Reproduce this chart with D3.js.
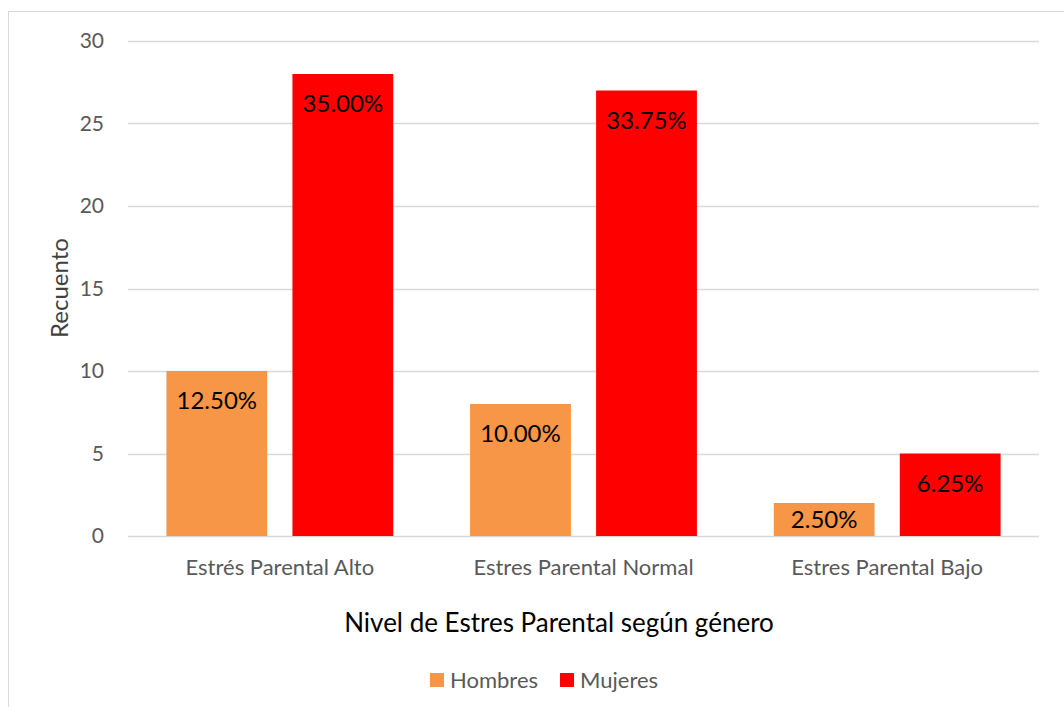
<!DOCTYPE html>
<html>
<head>
<meta charset="utf-8">
<script src="https://cdn.jsdelivr.net/npm/d3@7"></script>
<style>
  body { margin: 0; background: #fff; }
  text { font-family: Lato, "Open Sans", sans-serif; }
</style>
</head>
<body>
<div id="chart"></div>
<script>
// data
const categories = ["Estrés Parental Alto", "Estres Parental Normal", "Estres Parental Bajo"];
const seriesNames = ["Hombres", "Mujeres"];
const hombres = [10, 8, 2];
const mujeres = [28, 27, 5];
const hombresPct = ["12.50%", "10.00%", "2.50%"];
const mujeresPct = ["35.00%", "33.75%", "6.25%"];
const yTicks = [0, 5, 10, 15, 20, 25, 30];
const colors = ["#F79646", "#FF0000"];

const width = 1064, height = 707;
const margin = {top: 41, right: 25, bottom: 171, left: 128};

const svg = d3.select("#chart").append("svg")
    .attr("width", width)
    .attr("height", height);

// chart frame
svg.append("rect")
    .attr("x", 8.5).attr("y", 11.5)
    .attr("width", width + 20).attr("height", height + 20)
    .attr("fill", "none")
    .attr("stroke", "#D9D9D9");

const x0 = d3.scaleBand()
    .domain(categories)
    .range([margin.left, width - margin.right])
    .paddingInner(0.253)
    .paddingOuter(0.1265);

const x1 = d3.scaleBand()
    .domain(seriesNames)
    .range([0, x0.bandwidth()])
    .paddingInner(0.2);

const y = d3.scaleLinear()
    .domain([0, 30])
    .range([height - margin.bottom, margin.top]);

// gridlines
svg.append("g")
    .selectAll("line")
    .data(yTicks)
    .join("line")
    .attr("x1", margin.left)
    .attr("x2", width - margin.right)
    .attr("y1", d => Math.round(y(d)) + 0.5)
    .attr("y2", d => Math.round(y(d)) + 0.5)
    .attr("stroke", "#D9D9D9")
    .attr("stroke-width", 1.3);

// y tick labels
svg.append("g")
    .selectAll("text")
    .data(yTicks)
    .join("text")
    .attr("x", 104)
    .attr("y", d => y(d))
    .attr("dy", "0.35em")
    .attr("text-anchor", "end")
    .attr("font-size", "21px")
    .attr("fill", "#595959")
    .text(d => d);

const rows = categories.map((c, i) => ({
    cat: c,
    vals: [
        {name: "Hombres", value: hombres[i], pct: hombresPct[i], color: colors[0]},
        {name: "Mujeres", value: mujeres[i], pct: mujeresPct[i], color: colors[1]}
    ]
}));

const groups = svg.append("g")
    .selectAll("g")
    .data(rows)
    .join("g")
    .attr("transform", d => `translate(${x0(d.cat)},0)`);

groups.selectAll("rect")
    .data(d => d.vals)
    .join("rect")
    .attr("x", d => x1(d.name))
    .attr("y", d => y(d.value))
    .attr("width", x1.bandwidth())
    .attr("height", d => y(0) - y(d.value))
    .attr("fill", d => d.color);

// data labels (inside end)
groups.selectAll("text")
    .data(d => d.vals)
    .join("text")
    .attr("x", d => x1(d.name) + x1.bandwidth() / 2)
    .attr("y", d => Math.min(y(d.value) + 30, (y(d.value) + y(0)) / 2))
    .attr("dy", "0.35em")
    .attr("text-anchor", "middle")
    .attr("font-size", "24px")
    .attr("fill", "#000")
    .text(d => d.pct);

// category labels
svg.append("g")
    .selectAll("text")
    .data(categories)
    .join("text")
    .attr("x", d => x0(d) + x0.bandwidth() / 2)
    .attr("y", 567)
    .attr("dy", "0.35em")
    .attr("text-anchor", "middle")
    .attr("font-size", "22px")
    .attr("fill", "#595959")
    .text(d => d);

// axis titles
svg.append("text")
    .attr("x", 559)
    .attr("y", 623)
    .attr("dy", "0.35em")
    .attr("text-anchor", "middle")
    .attr("font-size", "26px")
    .attr("fill", "#000")
    .text("Nivel de Estres Parental según género");

svg.append("text")
    .attr("transform", "translate(60,288) rotate(-90)")
    .attr("dy", "0.35em")
    .attr("text-anchor", "middle")
    .attr("font-size", "24px")
    .attr("fill", "#404040")
    .text("Recuento");

// legend
const legendX = [430, 560];
const legend = svg.append("g")
    .selectAll("g")
    .data(seriesNames)
    .join("g")
    .attr("transform", (d, i) => `translate(${legendX[i]},673)`);

legend.append("rect")
    .attr("width", 14).attr("height", 14)
    .attr("fill", (d, i) => colors[i]);

legend.append("text")
    .attr("x", 20)
    .attr("y", 7)
    .attr("dy", "0.35em")
    .attr("font-size", "22px")
    .attr("fill", "#595959")
    .text(d => d);
</script>
</body>
</html>
